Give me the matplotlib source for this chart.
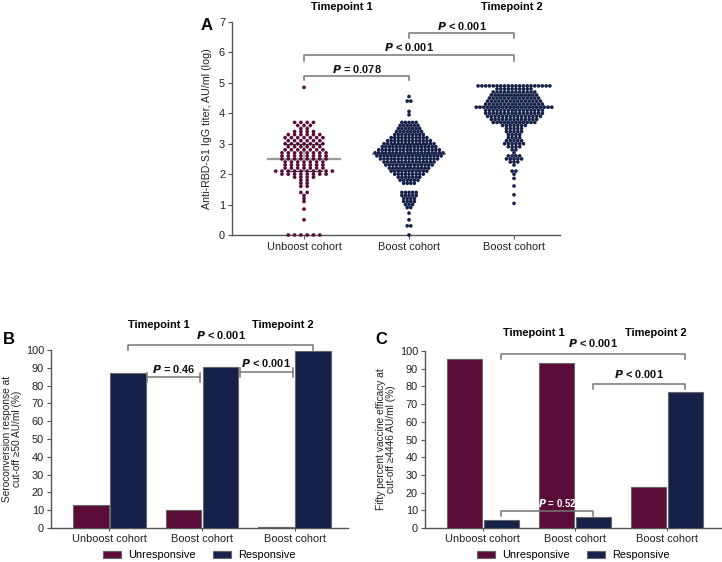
import numpy as np
import matplotlib
matplotlib.use("Agg")
import matplotlib.pyplot as plt

plt.rcParams['font.family'] = ['Liberation Sans', 'DejaVu Sans']

# ---------------- data ----------------
groups_A = ["Unboost cohort", "Boost cohort", "Boost cohort"]
# panel A: log titer values (binned by 0.1) and number of points per value
unboost_vals = [4.85, 3.7, 3.6, 3.5, 3.4, 3.3, 3.2, 3.1, 3.0, 2.9, 2.8, 2.7, 2.6, 2.5, 2.4, 2.3,
                2.2, 2.1, 2.0, 1.9, 1.8, 1.7, 1.6, 1.4, 1.3, 1.2, 1.1, 0.85, 0.5, 0.0]
unboost_cnts = [1, 4, 3, 2, 4, 6, 7, 6, 7, 6, 7, 8, 8, 8, 7, 7,
                7, 10, 8, 4, 2, 2, 2, 2, 1, 1, 1, 1, 1, 6]
boost1_vals = [4.55, 4.4, 4.06, 3.95, 3.7, 3.6, 3.5, 3.4, 3.3, 3.2, 3.1, 3.0, 2.9, 2.8, 2.7, 2.6,
               2.5, 2.4, 2.3, 2.2, 2.1, 2.0, 1.9, 1.8, 1.7, 1.4, 1.3, 1.2, 1.1, 1.0, 0.9,
               0.72, 0.5, 0.3, 0.0]
boost1_cnts = [1, 2, 1, 1, 5, 6, 7, 8, 9, 11, 13, 15, 16, 18, 20, 19,
               17, 15, 14, 12, 11, 9, 7, 6, 4, 5, 5, 4, 4, 3, 2,
               1, 1, 2, 1]
boost2_vals = [4.9, 4.8, 4.7, 4.6, 4.5, 4.4, 4.3, 4.2, 4.1, 4.0, 3.9, 3.8, 3.7, 3.6, 3.5, 3.4,
               3.3, 3.2, 3.1, 3.0, 2.9, 2.8, 2.7, 2.6, 2.5, 2.4, 2.3, 2.1, 2.0, 1.86, 1.61,
               1.32, 1.04]
boost2_cnts = [20, 10, 12, 13, 14, 15, 16, 21, 16, 16, 15, 13, 12, 7, 5, 5,
               4, 4, 5, 6, 4, 2, 1, 4, 5, 3, 1, 2, 1, 1, 1,
               1, 1]
medians_A = [2.5, 2.65, 4.2]
q1_A = [2.1, 2.2, 3.7]
q3_A = [3.0, 3.0, 4.6]

groups_B = ["Unboost cohort", "Boost cohort", "Boost cohort"]
B_unresp = [13, 10, 0.5]
B_resp = [87, 90.5, 99.5]
C_unresp = [95.5, 93.5, 23]
C_resp = [4.5, 6, 77]

MAROON = "#5a0c38"
NAVY = "#16214a"
EDGE = "#666666"
AXC = "#555555"
FS = 7.9

fig = plt.figure(figsize=(7.22, 5.62), dpi=100)


def style_axes(ax):
    for s in ["top", "right"]:
        ax.spines[s].set_visible(False)
    for s in ["left", "bottom"]:
        ax.spines[s].set_color(AXC)
        ax.spines[s].set_linewidth(1.0)
    ax.tick_params(axis='both', colors=AXC, labelcolor="#222222", labelsize=FS,
                   length=3, width=0.8, pad=2)


def bracket(ax, x1, x2, y, drop, text, ty, tx=None, color="#777777", tcolor="#111111"):
    ax.plot([x1, x1, x2, x2], [y - drop, y, y, y - drop], color=color, lw=1.1,
            clip_on=False, zorder=5)
    if tx is None:
        tx = (x1 + x2) / 2
    ax.text(tx, ty, text, ha="center", va="center", fontsize=FS, fontweight="bold",
            color=tcolor, clip_on=False, zorder=6)


def ibeam(ax, x1, x2, y, h, text, ty):
    ax.plot([x1, x2], [y, y], color="#777777", lw=1.1, clip_on=False, zorder=5)
    for xx in (x1, x2):
        ax.plot([xx, xx], [y - h, y + h], color="#777777", lw=1.1, clip_on=False, zorder=5)
    ax.text((x1 + x2) / 2, ty, text, ha="center", va="center", fontsize=FS,
            fontweight="bold", color="#111111", clip_on=False, zorder=6)


def legend(ax, h):
    ax.legend(loc="center", bbox_to_anchor=(0.5, (528 - 555) / h), ncol=2, frameon=False,
              fontsize=FS, handlelength=1.65, handleheight=0.6, columnspacing=1.6,
              handletextpad=0.65, borderaxespad=0, borderpad=0)


# ---------------- Panel A ----------------
axA = fig.add_axes([232 / 722, 1 - 235 / 562, 328 / 722, 213 / 562])
style_axes(axA)
axA.set_xlim(-0.686, 2.438)
axA.set_ylim(0, 7)
axA.set_yticks(range(8))
axA.set_xticks([0, 1, 2])
axA.set_xticklabels(groups_A)
axA.set_ylabel("Anti-RBD-S1 IgG titer, AU/ml (log)", fontsize=7.7, color="#222222", labelpad=5)

pitches = [0.06, 0.034, 0.036]
swarm = [(unboost_vals, unboost_cnts, MAROON), (boost1_vals, boost1_cnts, NAVY),
         (boost2_vals, boost2_cnts, NAVY)]
for gi, (vals, cnts, col) in enumerate(swarm):
    xs, ys = [], []
    for v, c in zip(vals, cnts):
        offs = (np.arange(c) - (c - 1) / 2) * pitches[gi]
        xs.extend(gi + offs)
        ys.extend([v] * c)
    # median and IQR lines (behind dots)
    axA.plot([gi - 0.34, gi + 0.34], [medians_A[gi]] * 2, color="#999999", lw=1.6, zorder=2)
    axA.plot([gi - 0.17, gi + 0.17], [q1_A[gi]] * 2, color="#333333", lw=0.9, zorder=2)
    axA.plot([gi - 0.17, gi + 0.17], [q3_A[gi]] * 2, color="#333333", lw=0.9, zorder=2)
    axA.plot([gi, gi], [q1_A[gi], q3_A[gi]], color="#aaaaaa", lw=1.2, zorder=2)
    axA.scatter(xs, ys, s=7, color=col, edgecolors="none", zorder=3, clip_on=False)

bracket(axA, 0, 1, 5.23, 0.15, r"$\bfit{P}$ = 0.078", 5.44)
bracket(axA, 0, 2, 5.92, 0.2, r"$\bfit{P}$ < 0.001", 6.17)
bracket(axA, 1, 2, 6.64, 0.17, r"$\bfit{P}$ < 0.001", 6.87)
fig.text(342 / 722, 1 - 7 / 562, "Timepoint 1", ha="center", va="center", fontsize=FS, fontweight="bold")
fig.text(512 / 722, 1 - 7 / 562, "Timepoint 2", ha="center", va="center", fontsize=FS, fontweight="bold")
fig.text(207 / 722, 1 - 26 / 562, "A", ha="center", va="center", fontsize=12, fontweight="bold")

# ---------------- Panel B ----------------
bw = 0.38
off = 0.2
x = np.arange(3)
axB = fig.add_axes([51 / 722, 1 - 528 / 562, 297 / 722, 178 / 562])
style_axes(axB)
axB.bar(x - off, B_unresp, bw, color=MAROON, edgecolor=EDGE, linewidth=0.8, label="Unresponsive", zorder=3)
axB.bar(x + off, B_resp, bw, color=NAVY, edgecolor=EDGE, linewidth=0.8, label="Responsive", zorder=3)
axB.set_xlim(-0.632, 2.578)
axB.set_ylim(0, 100)
axB.set_yticks(range(0, 101, 10))
axB.set_xticks(x)
axB.set_xticklabels(groups_B)
axB.tick_params(axis='x', length=2)
axB.set_ylabel("Seroconversion response at\ncut-off \u226550 AU/ml (%)", fontsize=7.3,
               color="#222222", labelpad=3, linespacing=0.95)
bracket(axB, 0 + off, 2 + off, 102.8, 2.8, r"$\bfit{P}$ < 0.001", 108.3)
ibeam(axB, 0.41, 0.98, 84.8, 2.5, r"$\bfit{P}$ = 0.46", 89.5)
ibeam(axB, 1.41, 1.98, 87.5, 2.5, r"$\bfit{P}$ < 0.001", 92.5)
fig.text(159 / 722, 1 - 325 / 562, "Timepoint 1", ha="center", va="center", fontsize=FS, fontweight="bold")
fig.text(283 / 722, 1 - 325 / 562, "Timepoint 2", ha="center", va="center", fontsize=FS, fontweight="bold")
fig.text(9 / 722, 1 - 340 / 562, "B", ha="center", va="center", fontsize=12, fontweight="bold")
legend(axB, 178)

# ---------------- Panel C ----------------
axC = fig.add_axes([425 / 722, 1 - 528 / 562, 297 / 722, 177 / 562])
style_axes(axC)
axC.bar(x - off, C_unresp, bw, color=MAROON, edgecolor=EDGE, linewidth=0.8, label="Unresponsive", zorder=3)
axC.bar(x + off, C_resp, bw, color=NAVY, edgecolor=EDGE, linewidth=0.8, label="Responsive", zorder=3)
axC.set_xlim(-0.63, 2.6)
axC.set_ylim(0, 100)
axC.set_yticks(range(0, 101, 10))
axC.set_xticks(x)
axC.set_xticklabels(groups_B)
axC.tick_params(axis='x', length=2)
axC.set_ylabel("Fifty percent vaccine efficacy at\ncut-off \u22654446 AU/ml (%)", fontsize=7.3,
               color="#222222", labelpad=3, linespacing=0.95)
bracket(axC, 0 + off, 2 + off, 98.3, 2.6, r"$\bfit{P}$ < 0.001", 104.5)
bracket(axC, 1 + off, 2 + off, 81.4, 2.8, r"$\bfit{P}$ < 0.001", 87)
axC.plot([0 + off, 0 + off, 1 + off, 1 + off], [6.8, 9.6, 9.6, 6.8], color="#777777", lw=1.1, zorder=5)
axC.text(0.805, 14.3, r"$\bfit{P}$ = 0.52", ha="center", va="center", fontsize=6.9,
         fontweight="bold", color="white", zorder=6)
fig.text(534 / 722, 1 - 333 / 562, "Timepoint 1", ha="center", va="center", fontsize=FS, fontweight="bold")
fig.text(656 / 722, 1 - 333 / 562, "Timepoint 2", ha="center", va="center", fontsize=FS, fontweight="bold")
fig.text(381 / 722, 1 - 340 / 562, "C", ha="center", va="center", fontsize=12, fontweight="bold")
legend(axC, 177)

fig.savefig("out.png", dpi=100)
